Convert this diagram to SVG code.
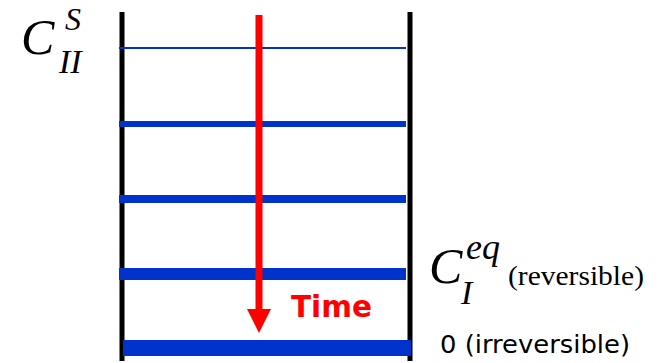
<svg xmlns="http://www.w3.org/2000/svg" width="657" height="363" viewBox="0 0 657 363">
  <style>
    .wall { stroke: #000; stroke-width: 5; }
    .level { stroke: #0033CC; }
    .math { font-family: "Liberation Serif", "Times New Roman", serif; font-style: italic; fill: #000; }
    .serif { font-family: "Liberation Serif", "Times New Roman", serif; fill: #000; }
    .hand { font-family: "DejaVu Sans", Verdana, sans-serif; }
  </style>
  <rect width="657" height="363" fill="#fff"/>
  <g id="walls">
    <line class="wall" x1="122" y1="12" x2="122" y2="361"/>
    <line class="wall" x1="410" y1="12" x2="410" y2="361"/>
  </g>
  <g id="levels">
    <line class="level" x1="119" y1="48" x2="406" y2="48" stroke-width="2"/>
    <line class="level" x1="119" y1="124" x2="406" y2="124" stroke-width="6"/>
    <line class="level" x1="119" y1="199" x2="406" y2="199" stroke-width="8"/>
    <line class="level" x1="119" y1="274" x2="406" y2="274" stroke-width="12"/>
    <line class="level" x1="123" y1="348" x2="411" y2="348" stroke-width="16"/>
  </g>
  <g id="connectors">
    <g id="time-arrow">
      <line x1="259" y1="15" x2="259" y2="311" stroke="#FF0000" stroke-width="7"/>
      <polygon points="247,309 271,309 259,333" fill="#FF0000"/>
    </g>
  </g>
  <g id="label-time">
    <text class="hand" x="291" y="317" font-size="31" font-weight="bold" fill="#FF0000" textLength="81" lengthAdjust="spacingAndGlyphs">Time</text>
  </g>
  <g id="label-cs">
    <text class="math" x="21" y="54" font-size="50">C</text>
    <text class="math" x="65" y="30" font-size="32">S</text>
    <text class="math" x="59" y="73" font-size="34">II</text>
  </g>
  <g id="label-ceq">
    <text class="math" x="429" y="283" font-size="50">C</text>
    <text class="math" x="466" y="259" font-size="36">eq</text>
    <text class="math" x="461" y="304" font-size="34">I</text>
    <text class="serif" x="508" y="285" font-size="28" textLength="136" lengthAdjust="spacingAndGlyphs">(reversible)</text>
  </g>
  <g id="label-zero">
    <text class="hand" x="440" y="353" font-size="25" fill="#000" textLength="190" lengthAdjust="spacingAndGlyphs">0 (irreversible)</text>
  </g>
</svg>
